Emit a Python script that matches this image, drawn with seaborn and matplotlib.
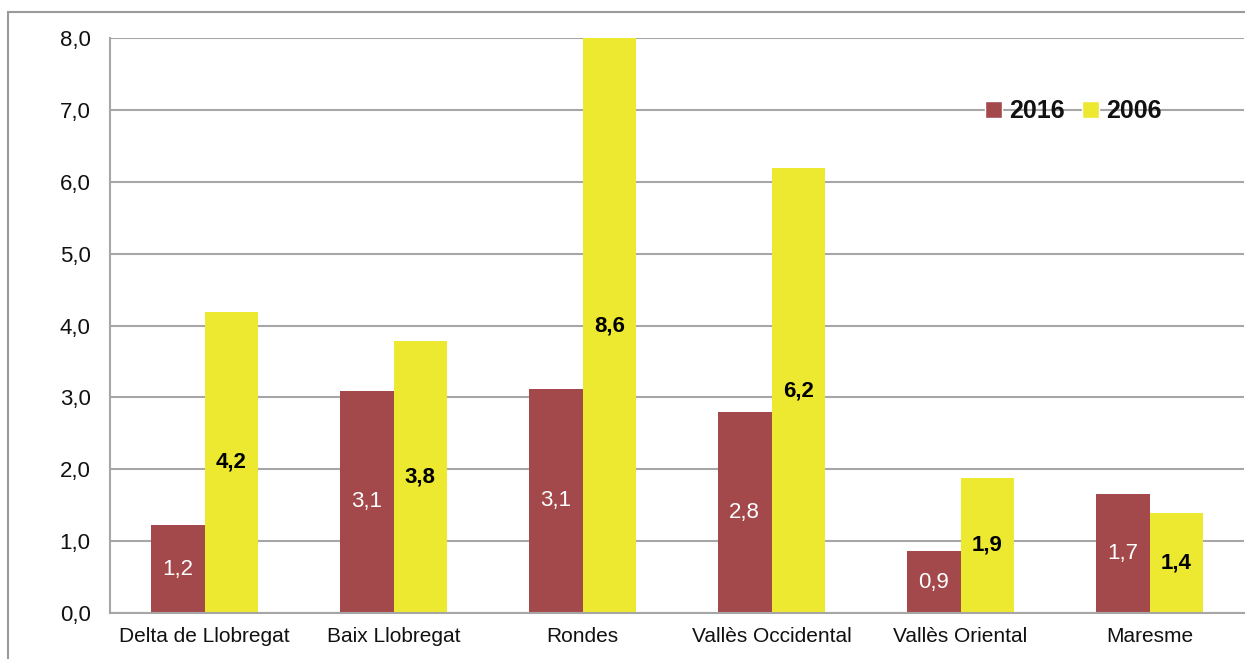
import matplotlib
matplotlib.use("Agg")
import matplotlib.pyplot as plt
import seaborn as sns
import pandas as pd
from matplotlib.patches import Rectangle

# Comarques / corridors
categories = ["Delta de Llobregat", "Baix Llobregat", "Rondes",
              "Vallès Occidental", "Vallès Oriental", "Maresme"]
series_names = ["2016", "2006"]
values_2016 = [1.22, 3.09, 3.12, 2.80, 0.86, 1.66]
values_2006 = [4.19, 3.78, 8.60, 6.19, 1.88, 1.39]
y_ticks = [0, 1, 2, 3, 4, 5, 6, 7, 8]

RED = "#A4494B"
YELLOW = "#EDE830"
GRID = "#A6A6A6"
TEXT = "#111111"

df = pd.DataFrame({
    "zona": categories * 2,
    "any": [series_names[0]] * len(categories) + [series_names[1]] * len(categories),
    "valor": values_2016 + values_2006,
})

sns.set_theme(style="white")
plt.rcParams["font.family"] = ["Liberation Sans", "DejaVu Sans"]
plt.rcParams["text.color"] = TEXT
plt.rcParams["xtick.color"] = TEXT
plt.rcParams["ytick.color"] = TEXT

fig = plt.figure(figsize=(12.45, 6.59), dpi=100)
ax = fig.add_axes([0.0884, 0.0698, 0.9108, 0.8725])

sns.barplot(data=df, x="zona", y="valor", hue="any", hue_order=series_names,
            palette=[RED, YELLOW], width=0.566, gap=0, saturation=1,
            linewidth=0, ax=ax, legend=False)

ax.set_ylim(0, 8)
ax.set_xlim(-0.5, len(categories) - 0.5)
ax.set_yticks(y_ticks)
ax.set_yticklabels([f"{v:.1f}".replace(".", ",") for v in y_ticks], fontsize=16)
ax.set_xticks(range(len(categories)))
ax.set_xticklabels(categories, fontsize=15)
ax.tick_params(axis="x", which="major", length=0, pad=10)
ax.set_xticks([i - 0.5 for i in range(len(categories) + 1)], minor=True)
ax.tick_params(axis="x", which="minor", length=6, width=1.2, color=GRID)
ax.tick_params(axis="y", length=6, width=1.2, color=GRID, pad=8, labelcolor=TEXT)
ax.tick_params(axis="x", labelcolor=TEXT)
ax.set_xlabel("")
ax.set_ylabel("")

ax.yaxis.grid(True, color=GRID, linewidth=1.5)
ax.set_axisbelow(True)
for side in ["top", "right"]:
    ax.spines[side].set_visible(False)
for side in ["left", "bottom"]:
    ax.spines[side].set_color(GRID)
    ax.spines[side].set_linewidth(1.5)

# Value labels centred in each bar
fmt = lambda v: f"{v:.1f}".replace(".", ",")
c2016, c2006 = ax.containers[0], ax.containers[1]
ax.bar_label(c2016, labels=[fmt(v) for v in values_2016], label_type="center",
             color="white", fontsize=16)
ax.bar_label(c2006, labels=[fmt(v) for v in values_2006], label_type="center",
             color="black", fontsize=16, fontweight="bold")

handles = [Rectangle((0, 0), 1, 1, facecolor=RED), Rectangle((0, 0), 1, 1, facecolor=YELLOW)]
ax.legend(handles, series_names, ncol=2, frameon=False, loc="center left",
          bbox_to_anchor=(0.772, 0.873), borderpad=0, borderaxespad=0,
          handlelength=0.65, handleheight=0.65, handletextpad=0.3,
          columnspacing=0.7, prop={"weight": "bold", "size": 18})

# Outer chart frame
fig.patches.append(Rectangle((0.0064, -0.05), 1.1, 1.0318, transform=fig.transFigure,
                             fill=False, edgecolor="#9A9A9A", linewidth=1.5))

fig.savefig("out.png", dpi=100, facecolor="white")
